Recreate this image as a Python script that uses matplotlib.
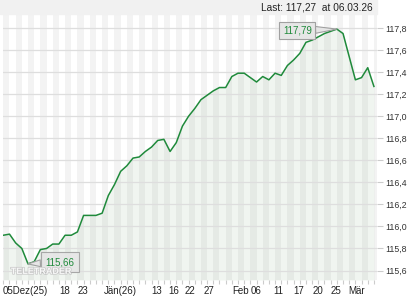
import matplotlib
matplotlib.use('Agg')
import matplotlib.pyplot as plt
import matplotlib.patheffects as pe
from matplotlib.patches import Rectangle

plt.rcParams['font.family'] = ['Liberation Sans', 'DejaVu Sans']

# closing prices, one per trading day (05.12.25 - 06.03.26)
prices = [115.92, 115.93, 115.85, 115.80, 115.66, 115.68, 115.79, 115.80, 115.84, 115.84,
          115.92, 115.92, 115.95, 116.10, 116.10, 116.10, 116.12, 116.28, 116.38, 116.50,
          116.55, 116.62, 116.63, 116.68, 116.72, 116.78, 116.79, 116.68, 116.76, 116.91,
          117.00, 117.07, 117.15, 117.19, 117.23, 117.26, 117.26, 117.36, 117.39, 117.39,
          117.35, 117.31, 117.36, 117.33, 117.39, 117.37, 117.46, 117.51, 117.57, 117.67,
          117.69, 117.72, 117.75, 117.77, 117.79, 117.75, 117.54, 117.33, 117.35, 117.44,
          117.27]
days = list(range(len(prices)))

# x labels (left aligned at their trading-day index)
xlabels = ['05Dez(25)', '18', '23', 'Jän(26)', '13', '16', '22', '27',
           'Feb', '06', '11', '17', '20', '25', 'Mär']
xlabel_pos = [-0.05, 9, 12, 16.2, 24, 26.7, 29.4, 32.4, 37, 40, 43.7, 47, 50, 53, 55.8]

yticks = [115.6, 115.8, 116.0, 116.2, 116.4, 116.6, 116.8, 117.0, 117.2, 117.4, 117.6, 117.8]

hi_idx, lo_idx = 54, 4
last_txt = 'Last: 117,27  at 06.03.26'

green = '#1f8a3b'

fig = plt.figure(figsize=(4.2, 3.0), dpi=100)
fig.patch.set_facecolor('white')
fig.patches.append(Rectangle((0, 1 - 14 / 300), 377 / 420, 14 / 300,
                             transform=fig.transFigure, color='#f1f1f1', zorder=0))
fig.text(373 / 420, 1 - 7.5 / 300, last_txt, ha='right', va='center',
         fontsize=7.3, color='#222222')

ax = fig.add_axes([3 / 420, 20 / 300, 374 / 420, 265 / 300])
ymin, ymax = 115.514, 117.918
ax.set_xlim(-0.05, 60.5)
ax.set_ylim(ymin, ymax)

# day stripes
for k in range(0, 62, 2):
    ax.axvspan(k, k + 1, color='#f3f3f3', lw=0, zorder=0)

ax.fill_between(days, prices, ymin, color='#2e7d32', alpha=0.07, lw=0, zorder=1)
for t in yticks:
    ax.axhline(t, color='#dedede', lw=0.9, zorder=2)
ax.plot(days, prices, color=green, lw=1.1, zorder=4)

for s in ax.spines.values():
    s.set_visible(False)

ax.yaxis.tick_right()
ax.set_yticks(yticks)
ax.set_yticklabels([f'{t:.1f}'.replace('.', ',') for t in yticks])
ax.tick_params(axis='y', length=4, width=0.8, color='#cccccc', pad=2,
               labelsize=6.3, labelcolor='#333333')

ax.set_xticks(days)
ax.set_xticklabels([])
ax.tick_params(axis='x', length=3, width=0.8, color='#cccccc', direction='out')
for lab, p in zip(xlabels, xlabel_pos):
    ax.text(p, -0.042, lab, transform=ax.get_xaxis_transform(), ha='left', va='center',
            fontsize=7.0, color='#222222')

box = dict(boxstyle='square,pad=0.35', fc='#e6e6e6', ec='#a0a0a0', lw=0.8)
wedge = dict(arrowstyle='wedge,tail_width=0.7,shrink_factor=0.5', fc='#e6e6e6',
             ec='#a0a0a0', lw=0.8, shrinkA=0, shrinkB=0)
ax.annotate(f'{prices[hi_idx]:.2f}'.replace('.', ','), xy=(hi_idx, prices[hi_idx]),
            xytext=(47.6, 117.777), ha='center', va='center', fontsize=7.0,
            color=green, bbox=box, arrowprops=wedge, zorder=6)
box2 = dict(boxstyle='square,pad=0.5', fc='#e6e6e6', ec='#a0a0a0', lw=0.8, alpha=0.9)
ax.annotate(f'{prices[lo_idx]:.2f}'.replace('.', ','), xy=(lo_idx, prices[lo_idx]),
            xytext=(9.2, 115.675), ha='center', va='center', fontsize=7.0,
            color=green, bbox=box2, arrowprops=wedge, zorder=6)

# watermark, drawn over the low box as in the source
ax.text(6.1, 115.592, 'TELETRADER', ha='center', va='center', fontsize=6.5,
        fontweight='bold', color='white', alpha=0.85, zorder=7,
        path_effects=[pe.Stroke(linewidth=1.1, foreground='#c4c4c4'), pe.Normal()])

fig.savefig('out.png', dpi=100)
